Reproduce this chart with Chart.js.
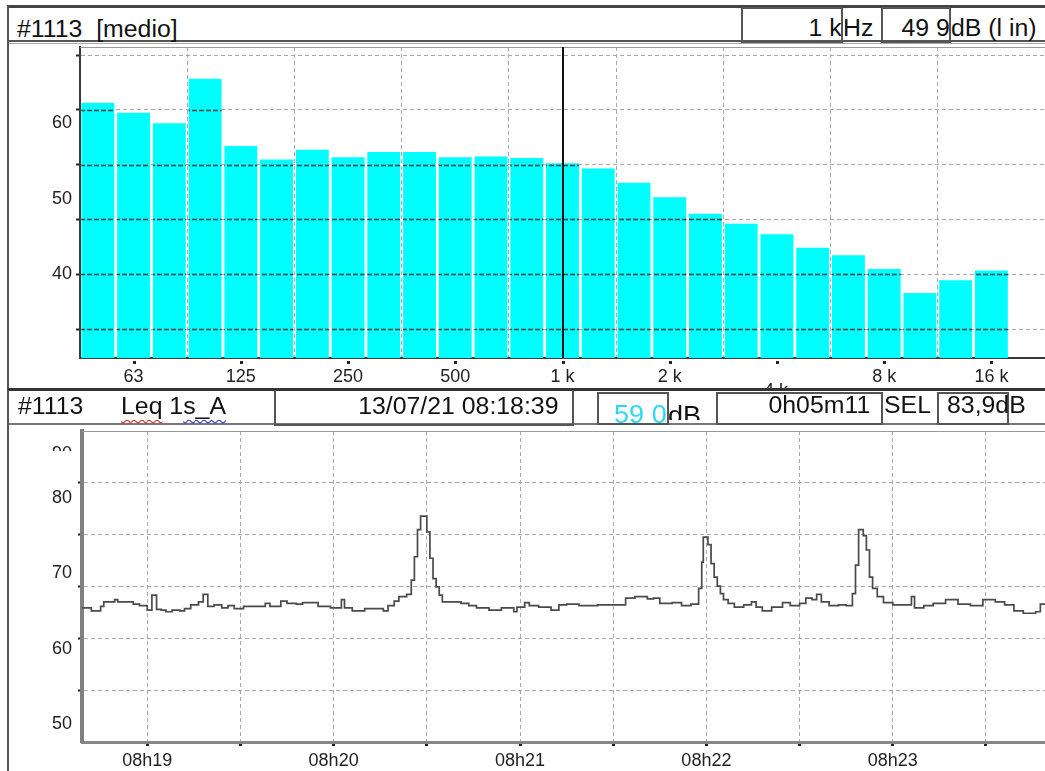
<!DOCTYPE html>
<html>
<head>
<meta charset="utf-8">
<script src="https://cdn.jsdelivr.net/npm/chart.js@4.4.0/dist/chart.umd.min.js"></script>
<style>
  body { margin: 0; width: 1045px; height: 771px; overflow: hidden; background: #fff;
         font-family: "Liberation Sans", Arial, sans-serif; position: relative; }
  .abs { position: absolute; box-sizing: border-box; }
  .txt { position: absolute; font-size: 23px; line-height: 23px; white-space: pre; color: #111;
         transform: scaleX(1.08); transform-origin: left top; }
  .txt.r { transform-origin: right top; }
  .box { position: absolute; box-sizing: border-box; border: 2px solid #555; overflow: hidden; }
  .clip { position: absolute; overflow: hidden; }
  canvas { position: absolute; }
</style>
</head>
<body>
<!-- top panel frame -->
<div class="abs" style="left:7px;top:5px;width:1045px;height:384px;border-left:2px solid #555;border-top:3px solid #444;"></div>
<div class="abs" style="left:9px;top:40px;width:1040px;height:4px;border-top:2px solid #555;border-bottom:1px solid #aaa;"></div>
<div class="txt" style="left:17px;top:18px;">#1113  [medio]</div>
<div class="box" style="left:741px;top:7px;width:102px;height:36px;"></div>
<div class="txt r" style="right:203px;top:17px;">1 k</div>
<div class="txt" style="left:843px;top:17px;">Hz</div>
<div class="box" style="left:881px;top:7px;width:70px;height:36px;"></div>
<div class="txt r" style="right:95px;top:17px;">49 9</div>
<div class="txt" style="left:951px;top:17px;">dB (l in)</div>

<canvas id="spectrumChart" width="1037" height="340" style="left:8px;top:44px;"></canvas>
<div class="clip" style="left:764px;top:381px;width:30px;height:8px;">
  <div style="font-size:18px;line-height:18px;color:#222;">4 k</div>
</div>

<!-- bottom panel frame -->
<div class="abs" style="left:7px;top:388px;width:1045px;height:383px;border-left:2px solid #555;border-top:3px solid #333;"></div>
<div class="abs" style="left:9px;top:423px;width:1040px;height:3px;border-top:2px solid #777;"></div>
<div class="abs" style="left:274px;top:390px;width:300px;height:36px;border:2px solid #555;border-top:none;"></div>
<div class="txt" style="left:18px;top:395px;">#1113</div>
<div class="txt" style="left:121px;top:395px;"><span style="text-decoration:underline wavy #e02020;text-decoration-thickness:1px;text-underline-offset:5px;">Leq</span> 1<span style="text-decoration:underline wavy #2030e0;text-decoration-thickness:1px;text-underline-offset:5px;">s_A</span></div>
<div class="txt r" style="right:487px;top:395px;">13/07/21 08:18:39</div>
<div class="box" style="left:597px;top:392px;width:72px;height:33px;">
  <div class="txt r" style="right:0;top:8px;font-size:25px;line-height:25px;color:#2ad8f5;">59 0</div>
</div>
<div class="clip" style="left:668px;top:395px;width:40px;height:25px;">
  <div class="txt" style="left:0;top:8px;font-size:25px;line-height:25px;">dB</div>
</div>
<div class="box" style="left:716px;top:392px;width:167px;height:33px;"></div>
<div class="txt r" style="right:175px;top:394px;">0h05m11</div>
<div class="txt" style="left:884px;top:394px;">SEL</div>
<div class="box" style="left:937px;top:392px;width:72px;height:33px;overflow:visible;"></div>
<div class="txt" style="left:947px;top:394px;">83,9dB</div>

<canvas id="leqChart" width="1037" height="344" style="left:8px;top:427px;"></canvas>
<div class="clip" style="left:52px;top:446px;width:24px;height:5px;">
  <div style="font-size:18px;line-height:18px;color:#222;margin-top:-2px;">90</div>
</div>

<script>
// --- spectrum (1/3 octave) ---
const freqLabels = ['50', '63', '80', '100', '125', '160', '200', '250', '315', '400', '500', '630', '800',
    '1 k', '1.25 k', '1.6 k', '2 k', '2.5 k', '3.15 k', '4 k', '5 k', '6.3 k', '8 k', '10 k', '12.5 k', '16 k', '20 k'];
const bandLevels = [62.7, 61.4, 60.0, 65.9, 57.0, 55.2, 56.5, 55.5, 56.2, 56.2, 55.5, 55.6, 55.4,
    54.7, 54.0, 52.1, 50.2, 48.0, 46.7, 45.3, 43.5, 42.5, 40.7, 37.5, 39.2, 40.5, null];
const shownFreqTicks = ['63', '125', '250', '500', '1 k', '2 k', '8 k', '16 k'];
const dotFreqTicks = ['63', '125', '250', '500', '1 k', '2 k', '4 k', '8 k', '16 k'];
const cursorFreq = '1 k';
const spectrumMin = 28.9;
const spectrumMax = 70.1;
const spectrumGridValues = [32.7, 40, 47.3, 54.5, 61.8, 69.0];
const spectrumLabelValues = [40, 50, 60];

// --- Leq 1s time history (seconds after 08:18:39) ---
const leqSeconds = [0, 3, 6, 7, 10.5, 11.5, 16.5, 18.5, 21, 22.5, 24, 25.5, 27, 29, 31.5, 33, 35, 37.5, 39, 40.5,
    42.5, 45, 47, 49, 52, 59, 60.5, 64, 66, 69, 71, 76, 80, 83.5, 84.5, 87, 91, 97, 98.5, 100.5,
    102, 104.5, 106, 107, 108, 109, 111, 112, 113, 114, 115, 116, 122, 124.5, 127, 131, 135, 139, 140, 142.5,
    144, 147, 151, 153.5, 156, 160, 166, 175, 178, 182, 184, 186, 190, 193, 196, 198.5, 199.5, 200, 201.5, 202.5,
    203.5, 204.5, 205.5, 206.5, 208, 210, 213, 215.5, 217, 219, 222, 225.5, 228, 231, 233, 235, 236.5, 238, 240.5, 243.5,
    246, 248, 249, 250, 251.5, 252.5, 253.5, 254.5, 256, 258, 261, 267, 268, 271, 274, 278, 282, 286, 290, 294,
    297, 300, 303, 307, 308.5, 310];
const leqValues = [65.4, 65.0, 65.6, 66.2, 66.5, 66.2, 65.9, 65.7, 65.1, 67.1, 65.2, 65.1, 64.9, 65.1, 65.0, 65.3, 65.8, 66.2, 67.2, 65.6,
    65.8, 65.4, 65.7, 65.3, 65.6, 66.0, 65.6, 66.3, 66.0, 65.9, 66.1, 65.6, 65.4, 66.5, 65.4, 65.0, 65.3, 65.0, 65.7, 66.3,
    66.9, 67.2, 69.1, 72.2, 75.8, 77.6, 75.5, 72.0, 69.3, 68.2, 67.1, 66.2, 66.0, 65.7, 65.4, 65.1, 65.4, 64.9, 65.5, 66.1,
    65.7, 65.5, 65.1, 65.8, 65.9, 65.7, 65.8, 66.7, 66.9, 66.6, 66.7, 66.0, 66.1, 65.7, 65.9, 68.0, 71.5, 74.8, 73.8, 71.3,
    69.5, 68.3, 67.3, 66.5, 66.0, 65.5, 65.8, 66.2, 65.5, 65.0, 65.5, 66.1, 65.7, 66.0, 66.7, 66.5, 67.2, 66.2, 65.7, 65.8,
    65.7, 67.3, 71.1, 75.8, 75.0, 73.1, 69.5, 68.0, 66.9, 66.1, 65.8, 66.9, 65.4, 65.7, 66.0, 66.5, 65.9, 65.7, 66.5, 66.2,
    65.8, 65.0, 64.7, 64.9, 65.9, 65.9];
const timeMin = 0;
const timeMax = 310;
const timeGridSeconds = [21, 51, 81, 111, 141, 171, 201, 231, 261, 291];
const minuteSeconds = [21, 81, 141, 201, 261];
const minuteLabels = ['08h19', '08h20', '08h21', '08h22', '08h23'];
const leqMin = 47.6;
const leqMax = 88.9;
const leqGridValues = [54.5, 61.4, 68.3, 75.1, 82.0];
const leqLabelValues = [50, 60, 70, 80];

const FONT = { family: '"Liberation Sans", Arial, sans-serif', size: 18 };
const GRID_GREY = '#a9a9a9';
const NONE = 'rgba(0,0,0,0)';

function mixedTicks(gridVals, labelVals) {
    return [...new Set([...gridVals, ...labelVals])].sort((a, b) => a - b).map(v => ({ value: v }));
}

// keep the plot area where the fixed axis sizes put it
function noEdgePadding(s) {
    s.paddingTop = 0;
    s.paddingBottom = 0;
    s.paddingLeft = 0;
    s.paddingRight = 0;
}

// dark grid segments drawn over the cyan bars, plus cursor and tick dots
const spectrumExtras = {
    id: 'spectrumExtras',
    afterDatasetsDraw(chart) {
        const { ctx, chartArea } = chart;
        const bars = chart.getDatasetMeta(0).data;
        const yScale = chart.scales.y;
        ctx.save();
        ctx.beginPath();
        bars.forEach(b => {
            if (b.skip || isNaN(b.y)) return;
            ctx.rect(b.x - b.width / 2, b.y, b.width, b.base - b.y);
        });
        ctx.clip();
        ctx.strokeStyle = '#2b3d3d';
        ctx.lineWidth = 1.5;
        ctx.setLineDash([5, 2]);
        spectrumGridValues.forEach(v => {
            const py = Math.round(yScale.getPixelForValue(v)) + 0.5;
            ctx.beginPath();
            ctx.moveTo(chartArea.left, py);
            ctx.lineTo(chartArea.right, py);
            ctx.stroke();
        });
        ctx.restore();
    },
    afterDraw(chart) {
        const { ctx, chartArea } = chart;
        const xScale = chart.scales.x;
        ctx.save();
        // plot top border
        ctx.strokeStyle = '#9a9a9a';
        ctx.lineWidth = 1;
        ctx.beginPath();
        ctx.moveTo(chartArea.left, chartArea.top + 0.5);
        ctx.lineTo(chartArea.right, chartArea.top + 0.5);
        ctx.stroke();
        // 1 kHz cursor
        const cx = Math.round(xScale.getPixelForValue(freqLabels.indexOf(cursorFreq)));
        ctx.strokeStyle = '#111';
        ctx.lineWidth = 2;
        ctx.beginPath();
        ctx.moveTo(cx, chartArea.top);
        ctx.lineTo(cx, chartArea.bottom);
        ctx.stroke();
        // tick dots under the axis
        ctx.fillStyle = '#222';
        dotFreqTicks.forEach(f => {
            const px = xScale.getPixelForValue(freqLabels.indexOf(f));
            ctx.fillRect(Math.round(px) - 1, chartArea.bottom + 3, 3, 3);
        });
        ctx.restore();
    }
};

const plotTopBorder = {
    id: 'plotTopBorder',
    afterDraw(chart) {
        const { ctx, chartArea } = chart;
        ctx.save();
        ctx.strokeStyle = '#9a9a9a';
        ctx.lineWidth = 1;
        ctx.beginPath();
        ctx.moveTo(chartArea.left, chartArea.top + 0.5);
        ctx.lineTo(chartArea.right, chartArea.top + 0.5);
        ctx.stroke();
        ctx.restore();
    }
};

new Chart(document.getElementById('spectrumChart'), {
    type: 'bar',
    data: {
        labels: freqLabels,
        datasets: [{
            data: bandLevels,
            backgroundColor: '#00ffff',
            borderWidth: 0,
            barPercentage: 0.92,
            categoryPercentage: 1
        }]
    },
    options: {
        responsive: false,
        animation: false,
        layout: { padding: { top: 3, right: 0, bottom: 0, left: 0 } },
        plugins: { legend: { display: false }, tooltip: { enabled: false } },
        scales: {
            x: {
                afterFit: s => { s.height = 26; noEdgePadding(s); },
                grid: {
                    offset: true,
                    drawTicks: false,
                    color: ctx => (ctx.index % 3 === 0 ? GRID_GREY : NONE)
                },
                border: { color: '#3a3a3a', width: 2, dash: [4, 3] },
                ticks: {
                    autoSkip: false,
                    maxRotation: 0,
                    padding: 8,
                    font: FONT,
                    color: '#222',
                    callback: (v, i) => (shownFreqTicks.includes(freqLabels[i]) ? freqLabels[i] : '')
                }
            },
            y: {
                min: spectrumMin,
                max: spectrumMax,
                afterBuildTicks: s => { s.ticks = mixedTicks(spectrumGridValues, spectrumLabelValues); },
                afterFit: s => { s.width = 72; noEdgePadding(s); },
                grid: {
                    color: ctx => (ctx.tick && spectrumGridValues.includes(ctx.tick.value) ? GRID_GREY : NONE),
                    tickColor: ctx => (ctx.tick && spectrumGridValues.includes(ctx.tick.value) ? '#222' : NONE),
                    tickLength: 4,
                    tickWidth: 2
                },
                border: { color: '#3a3a3a', width: 2, dash: [4, 3] },
                ticks: {
                    padding: 4,
                    font: FONT,
                    color: '#222',
                    callback: v => (spectrumLabelValues.includes(v) ? String(v) : '')
                }
            }
        }
    },
    plugins: [spectrumExtras]
});

new Chart(document.getElementById('leqChart'), {
    type: 'line',
    data: {
        datasets: [{
            data: leqSeconds.map((t, i) => ({ x: t, y: leqValues[i] })),
            stepped: true,
            borderColor: '#4a4a4a',
            borderWidth: 1.7,
            pointRadius: 0,
            fill: false
        }]
    },
    options: {
        responsive: false,
        animation: false,
        layout: { padding: { top: 4, right: 0, bottom: 0, left: 0 } },
        plugins: { legend: { display: false }, tooltip: { enabled: false } },
        scales: {
            x: {
                type: 'linear',
                min: timeMin,
                max: timeMax,
                afterBuildTicks: s => { s.ticks = timeGridSeconds.map(v => ({ value: v })); },
                afterFit: s => { s.height = 29; noEdgePadding(s); },
                grid: { color: GRID_GREY, tickColor: '#222', tickLength: 4, tickWidth: 3 },
                border: { color: '#888', width: 3, dash: [4, 3] },
                ticks: {
                    autoSkip: false,
                    maxRotation: 0,
                    padding: 4,
                    font: FONT,
                    color: '#222',
                    callback: v => {
                        const i = minuteSeconds.indexOf(v);
                        return i >= 0 ? minuteLabels[i] : '';
                    }
                }
            },
            y: {
                min: leqMin,
                max: leqMax,
                afterBuildTicks: s => { s.ticks = mixedTicks(leqGridValues, leqLabelValues); },
                afterFit: s => { s.width = 74; noEdgePadding(s); },
                grid: {
                    color: ctx => (ctx.tick && leqGridValues.includes(ctx.tick.value) ? GRID_GREY : NONE),
                    tickColor: ctx => (ctx.tick && leqGridValues.includes(ctx.tick.value) ? '#222' : NONE),
                    tickLength: 4,
                    tickWidth: 2
                },
                border: { color: '#808080', width: 4, dash: [4, 3] },
                ticks: {
                    padding: 6,
                    font: FONT,
                    color: '#222',
                    callback: v => (leqLabelValues.includes(v) ? String(v) : '')
                }
            }
        }
    },
    plugins: [plotTopBorder]
});
</script>
</body>
</html>
